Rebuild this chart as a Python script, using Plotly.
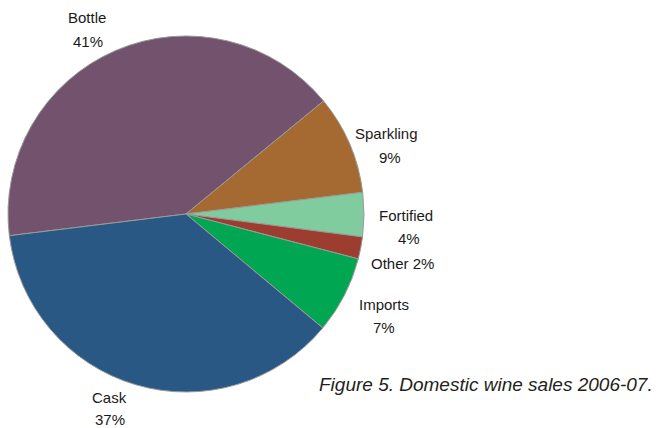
import plotly.graph_objects as go

# Domestic wine sales 2006-07, share by category
categories = ["Bottle", "Sparkling", "Fortified", "Other", "Imports", "Cask"]
shares = [41, 9, 4, 2, 7, 37]
colors = ["#73526d", "#a56a31", "#80cc9e", "#9d3d30", "#00a651", "#2a5885"]

W, H = 659, 428

fig = go.Figure(
    go.Pie(
        labels=categories,
        values=shares,
        sort=False,
        direction="clockwise",
        rotation=263,
        textinfo="none",
        hoverinfo="label+percent",
        marker=dict(colors=colors, line=dict(color="#9a9a9a", width=1)),
        domain=dict(x=[8 / W, 364 / W], y=[36 / H, 392 / H]),
        showlegend=False,
    )
)

label_font = dict(family="Liberation Sans, Arial, sans-serif", size=15, color="#1a1a1a")


def px(x, y):
    return x / W, 1 - y / H


# (text, x, y) centres in pixels
label_lines = [
    ("Bottle", 87, 18),
    (f"{shares[0]}%", 88, 41),
    ("Sparkling", 386, 133),
    (f"{shares[1]}%", 390, 157),
    ("Fortified", 406, 215),
    (f"{shares[2]}%", 409, 238),
    (f"Other {shares[3]}%", 402, 263),
    ("Imports", 384, 304),
    (f"{shares[4]}%", 384, 327),
    ("Cask", 109, 397),
    (f"{shares[5]}%", 110, 419),
]

annotations = []
for text, x, y in label_lines:
    ax, ay = px(x, y)
    annotations.append(
        dict(text=text, x=ax, y=ay, xref="paper", yref="paper",
             xanchor="center", yanchor="middle", showarrow=False, font=label_font)
    )

tx, ty = px(655, 384)
annotations.append(
    dict(text="<i>Figure 5. Domestic wine sales 2006-07.</i>", x=tx, y=ty,
         xref="paper", yref="paper", xanchor="right", yanchor="middle", showarrow=False,
         font=dict(family="Liberation Sans, Arial, sans-serif", size=19, color="#231f20"))
)

fig.update_layout(
    width=W,
    height=H,
    margin=dict(l=0, r=0, t=0, b=0),
    paper_bgcolor="white",
    plot_bgcolor="white",
    annotations=annotations,
)

fig.write_html("out.html")
